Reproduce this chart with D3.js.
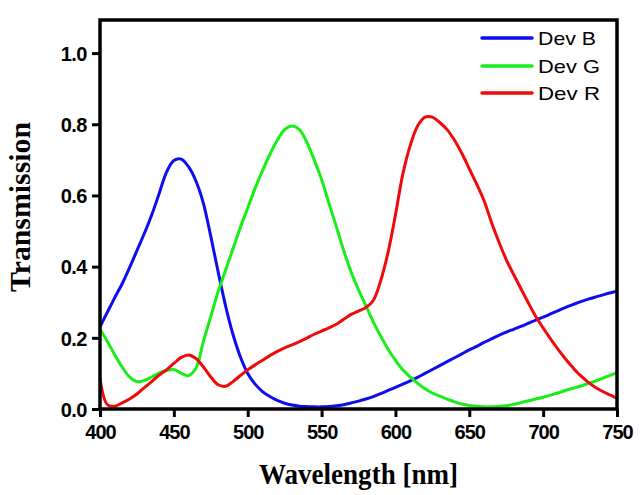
<!DOCTYPE html>
<html>
<head>
<meta charset="utf-8">
<script src="https://cdn.jsdelivr.net/npm/d3@7"></script>
<style>
  html, body { margin: 0; padding: 0; background: #fff; }
  svg { display: block; }
</style>
</head>
<body>
<svg id="chart" width="642" height="495"></svg>
<script>
// ---- data ----
const wavelengths = d3.range(400, 751, 5);
const devB = [0.231,0.272,0.313,0.352,0.397,0.445,0.493,0.545,0.605,0.665,
  0.698,0.702,0.68,0.64,0.578,0.485,0.385,0.29,0.21,0.147,
  0.10,0.07,0.049,0.035,0.024,0.016,0.011,0.008,0.007,0.006,
  0.006,0.007,0.009,0.012,0.017,0.022,0.028,0.035,0.043,0.052,
  0.061,0.07,0.079,0.089,0.10,0.111,0.122,0.133,0.144,0.155,
  0.166,0.176,0.187,0.197,0.207,0.216,0.224,0.232,0.241,0.25,
  0.258,0.267,0.276,0.285,0.293,0.301,0.308,0.314,0.32,0.326,0.331];
const devG = [0.224,0.19,0.152,0.118,0.09,0.077,0.08,0.09,0.101,0.108,
  0.111,0.10,0.094,0.115,0.19,0.26,0.33,0.39,0.45,0.51,
  0.565,0.62,0.67,0.715,0.755,0.785,0.795,0.785,0.75,0.70,
  0.645,0.578,0.513,0.445,0.385,0.335,0.29,0.245,0.205,0.168,
  0.137,0.11,0.09,0.072,0.057,0.045,0.036,0.028,0.02,0.014,
  0.01,0.008,0.006,0.006,0.007,0.009,0.013,0.018,0.023,0.028,
  0.033,0.039,0.045,0.052,0.058,0.064,0.071,0.078,0.086,0.094,0.102];
const devR = [0.086,0.012,0.008,0.017,0.028,0.042,0.06,0.077,0.095,0.11,
  0.128,0.145,0.152,0.142,0.118,0.09,0.068,0.064,0.077,0.094,
  0.11,0.124,0.137,0.15,0.162,0.172,0.18,0.189,0.199,0.21,
  0.219,0.228,0.238,0.252,0.266,0.275,0.285,0.305,0.36,0.44,
  0.545,0.66,0.74,0.795,0.82,0.82,0.805,0.785,0.755,0.718,
  0.675,0.632,0.585,0.525,0.47,0.42,0.378,0.338,0.298,0.26,
  0.228,0.197,0.168,0.141,0.117,0.095,0.077,0.062,0.05,0.04,0.03];
const seriesNames = ["Dev B", "Dev G", "Dev R"];
const seriesColors = ["#0d0df0", "#18ee18", "#f00a0a"];
const xTicks = [400, 450, 500, 550, 600, 650, 700, 750];
const yTicks = [0.0, 0.2, 0.4, 0.6, 0.8, 1.0];

const series = [devB, devG, devR];

// ---- layout ----
const svg = d3.select("#chart");
const L = 100, R = 617, T = 20, B = 409;

const x = d3.scaleLinear().domain([400, 750]).range([L, R]);
const y = d3.scaleLinear().domain([0, 1.093]).range([B, T]);

// lines (clipped to plot)
svg.append("clipPath").attr("id", "clip")
  .append("rect").attr("x", L).attr("y", T).attr("width", R - L).attr("height", B - T);

const line = d3.line()
  .x((d, i) => x(wavelengths[i]))
  .y(d => y(d))
  .curve(d3.curveCatmullRom.alpha(0.5));

const g = svg.append("g").attr("clip-path", "url(#clip)");
series.forEach((s, k) => {
  g.append("path")
    .datum(s)
    .attr("d", line)
    .attr("fill", "none")
    .attr("stroke", seriesColors[k])
    .attr("stroke-width", 3)
    .attr("stroke-linejoin", "round")
    .attr("stroke-linecap", "round");
});

// axes
const tickFont = "'Liberation Sans', Arial, sans-serif";
const xAxis = svg.append("g")
  .attr("transform", `translate(0,${B})`)
  .call(d3.axisBottom(x).tickValues(xTicks).tickSize(8).tickFormat(d3.format("d")));
xAxis.select(".domain").remove();
xAxis.selectAll(".tick line").attr("stroke", "#000").attr("stroke-width", 3);
xAxis.selectAll(".tick text")
  .attr("y", 30).attr("dy", null)
  .attr("fill", "#000")
  .style("font-family", tickFont)
  .style("font-weight", "bold")
  .style("font-size", "20px")
  .style("letter-spacing", "-1px");

const yAxis = svg.append("g")
  .attr("transform", `translate(${L},0)`)
  .call(d3.axisLeft(y).tickValues(yTicks).tickSize(8).tickFormat(d3.format(".1f")));
yAxis.select(".domain").remove();
yAxis.selectAll(".tick line").attr("stroke", "#000").attr("stroke-width", 3);
yAxis.selectAll(".tick text")
  .attr("x", -13).attr("dy", "0.36em")
  .attr("fill", "#000")
  .style("font-family", tickFont)
  .style("font-weight", "bold")
  .style("font-size", "20px")
  .style("letter-spacing", "-0.5px");

// frame
svg.append("rect")
  .attr("x", L).attr("y", T)
  .attr("width", R - L).attr("height", B - T)
  .attr("fill", "none")
  .attr("stroke", "#000")
  .attr("stroke-width", 3.5);

// axis titles
const serif = "'Liberation Serif', 'Times New Roman', serif";
svg.append("text")
  .attr("x", (L + R) / 2).attr("y", 484)
  .attr("text-anchor", "middle")
  .attr("textLength", 199).attr("lengthAdjust", "spacingAndGlyphs")
  .style("font-family", serif).style("font-weight", "bold").style("font-size", "30px")
  .attr("fill", "#000")
  .text("Wavelength [nm]");

svg.append("text")
  .attr("transform", "translate(30,207) rotate(-90)")
  .attr("text-anchor", "middle")
  .attr("textLength", 170).attr("lengthAdjust", "spacingAndGlyphs")
  .style("font-family", serif).style("font-weight", "bold").style("font-size", "29px")
  .attr("fill", "#000")
  .text("Transmission");

// legend
const legY = [38, 66, 93];
const legend = svg.append("g");
seriesNames.forEach((name, k) => {
  legend.append("line")
    .attr("x1", 482).attr("x2", 532)
    .attr("y1", legY[k]).attr("y2", legY[k])
    .attr("stroke", seriesColors[k]).attr("stroke-width", 3.5)
    .attr("stroke-linecap", "round");
  legend.append("text")
    .attr("x", 538).attr("y", legY[k] + 7)
    .attr("textLength", k === 0 ? 58 : 62).attr("lengthAdjust", "spacingAndGlyphs")
    .style("font-family", tickFont).style("font-size", "19px")
    .attr("fill", "#000")
    .text(name);
});
</script>
</body>
</html>
